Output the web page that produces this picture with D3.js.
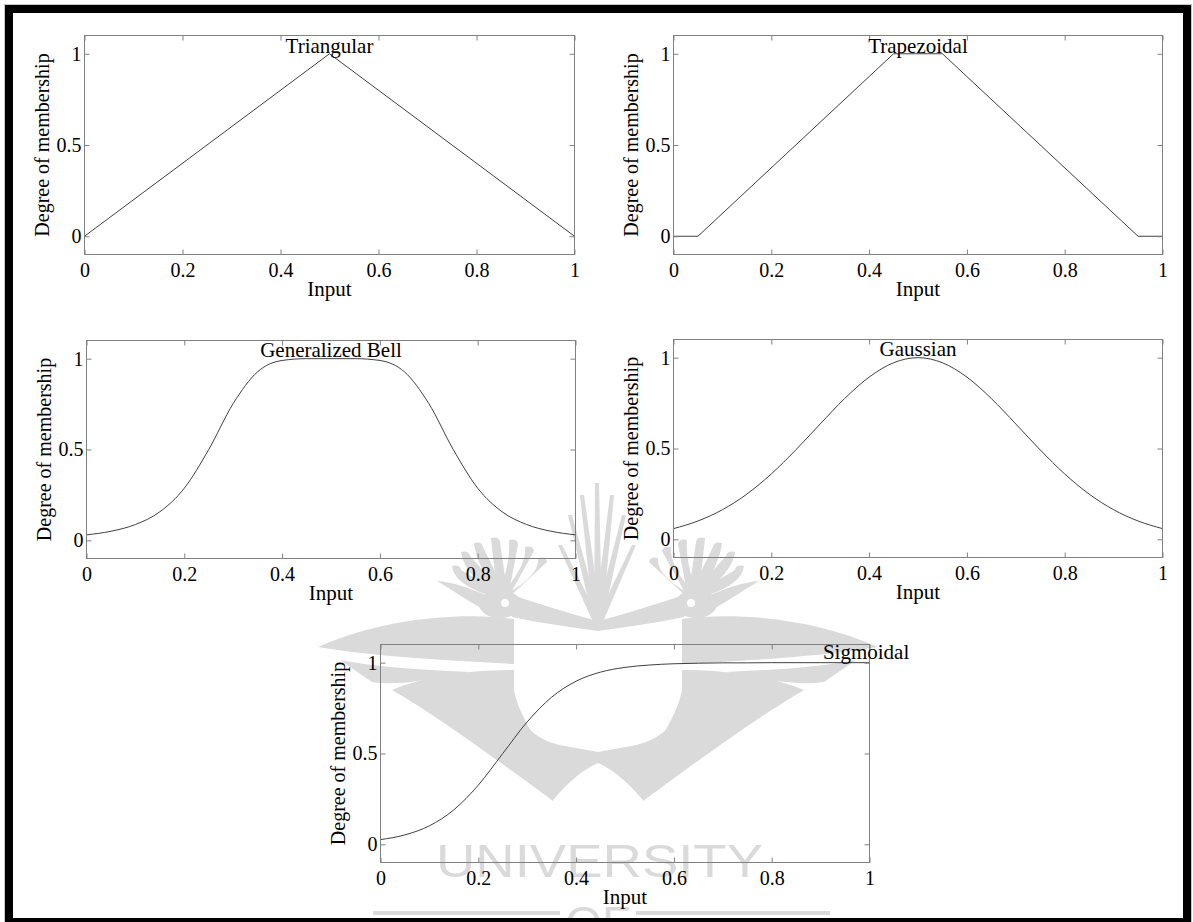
<!DOCTYPE html>
<html>
<head>
<meta charset="utf-8">
<script src="https://cdn.jsdelivr.net/npm/d3@7"></script>
<style>
  body { margin: 0; background: #fff; }
  svg { display: block; font-family: "Liberation Serif", "Times New Roman", serif; }
</style>
</head>
<body>
<svg width="1193" height="922"></svg>
<script>
// tick values shared by all five plots
var xTicks = [0, 0.2, 0.4, 0.6, 0.8, 1];
var yTicks = [0, 0.5, 1];

// membership curves
var triX = [0, 0.5, 1];
var triY = [0, 1, 0];
var trapX = [0, 0.05, 0.45, 0.55, 0.95, 1];
var trapY = [0, 0, 1, 1, 0, 0];
var smoothX = [0, 0.05, 0.1, 0.15, 0.2, 0.25, 0.3, 0.35, 0.4, 0.45, 0.5,
               0.55, 0.6, 0.65, 0.7, 0.75, 0.8, 0.85, 0.9, 0.95, 1];
var bellY = [0.030, 0.050, 0.087, 0.157, 0.287, 0.500, 0.753, 0.928, 0.990, 1.000, 1.000,
             1.000, 0.990, 0.928, 0.753, 0.500, 0.287, 0.157, 0.087, 0.050, 0.030];
var gaussY = [0.059, 0.101, 0.163, 0.249, 0.360, 0.492, 0.635, 0.775, 0.893, 0.972, 1.000,
              0.972, 0.893, 0.775, 0.635, 0.492, 0.360, 0.249, 0.163, 0.101, 0.059];
var sigY = [0.026, 0.052, 0.102, 0.190, 0.326, 0.500, 0.674, 0.810, 0.898, 0.948, 0.974,
            0.987, 0.994, 0.997, 0.999, 0.999, 1.000, 1.000, 1.000, 1.000, 1.000];

var svg = d3.select("svg");
var wm = "#dadada";

// ---- faint logo watermark behind the plots ----
var logo = svg.append("g").attr("fill", wm);
function halfLogo(g) {
    // crest feathers
    [[456, 566], [465, 552], [478, 543], [495, 538], [513, 540], [529, 547], [542, 558]].forEach(function (t) {
        g.append("path").attr("d", "M498,598 Q" + (t[0] - 2) + "," + (t[1] + 20) + " " + (t[0] - 4) + "," + t[1] +
            " Q" + (t[0] + 4) + "," + (t[1] - 2) + " " + (t[0] + 5) + "," + (t[1] + 4) + " L508,598 Z");
    });
    g.append("ellipse").attr("cx", 500).attr("cy", 604).attr("rx", 21).attr("ry", 14);
    g.append("path").attr("d", "M488,596 C470,588 452,582 437,581 C452,590 468,601 488,612 Z");
    g.append("path").attr("d", "M512,595 C540,604 570,614 598,621 L598,631 C570,627 540,623 512,617 Z");
    // wing: upper crescent and lower band
    g.append("path").attr("d", "M514,619 C465,612 385,617 318,647 C370,656 440,660 514,664 Z");
    g.append("path").attr("d", "M514,670 C470,670 425,676 392,690 C440,718 500,762 553,801 L561,772 C535,742 518,712 514,690 Z");
    g.append("path").attr("d", "M340,660 C380,668 430,670 470,672 C430,680 395,686 372,682 Z");
    // tail under the shield
    g.append("path").attr("d", "M514,700 C520,724 535,741 565,746 L598,752 L598,763 C580,771 566,785 553,800 C540,768 524,742 514,724 Z");
    g.append("circle").attr("cx", 505).attr("cy", 603).attr("r", 4).attr("fill", "#fff");
}
halfLogo(logo.append("g"));
halfLogo(logo.append("g").attr("transform", "translate(1196,0) scale(-1,1)"));
[[560, 545], [570, 515], [582, 495], [597, 483], [612, 495], [624, 515], [634, 545]].forEach(function (t) {
    logo.append("path").attr("d", "M594,624 L" + (t[0] - 2) + "," + t[1] + " L" + (t[0] + 2) + "," + t[1] + " L602,624 Z");
});
svg.append("text").attr("x", 436).attr("y", 877)
    .attr("textLength", 327).attr("lengthAdjust", "spacingAndGlyphs")
    .style("font-family", "'Liberation Sans', Arial, sans-serif").style("font-size", "47px")
    .attr("fill", wm).text("UNIVERSITY");
svg.append("text").attr("x", 598).attr("y", 939).attr("text-anchor", "middle")
    .style("font-family", "'Liberation Sans', Arial, sans-serif").style("font-size", "47px")
    .attr("fill", wm).text("OF");
svg.append("rect").attr("x", 373).attr("y", 911).attr("width", 187).attr("height", 4).attr("fill", wm);
svg.append("rect").attr("x", 636).attr("y", 911).attr("width", 194).attr("height", 4).attr("fill", wm);

// ---- the five plots ----
var panels = [
    {left: 84, top: 35, w: 490, h: 219, xs: triX, ys: triY, smooth: false, title: "Triangular", tx: 0.5, ty: 17},
    {left: 673, top: 35, w: 489, h: 219, xs: trapX, ys: trapY, smooth: false, title: "Trapezoidal", tx: 0.5, ty: 17},
    {left: 86, top: 340, w: 489, h: 218, xs: smoothX, ys: bellY, smooth: true, title: "Generalized Bell", tx: 0.5, ty: 16},
    {left: 673, top: 339, w: 489, h: 218, xs: smoothX, ys: gaussY, smooth: true, title: "Gaussian", tx: 0.5, ty: 16},
    {left: 380, top: 644, w: 489, h: 218, xs: smoothX, ys: sigY, smooth: true, title: "Sigmoidal", tx: 0.993, ty: 14}
];

var boxColor = "#808080";

panels.forEach(function (p) {
    var x = d3.scaleLinear().domain([0, 1]).range([0, p.w]);
    var y = d3.scaleLinear().domain([-0.1, 1.1]).range([p.h, 0]);
    var g = svg.append("g").attr("transform", "translate(" + (p.left + 0.5) + "," + (p.top + 0.5) + ")");

    var line = d3.line()
        .x(function (d) { return x(d[0]); })
        .y(function (d) { return y(d[1]); })
        .curve(p.smooth ? d3.curveMonotoneX : d3.curveLinear);
    g.append("path")
        .datum(d3.zip(p.xs, p.ys))
        .attr("d", line)
        .attr("fill", "none")
        .attr("stroke", "#404040")
        .attr("stroke-width", 1);

    var axes = [
        g.append("g").attr("transform", "translate(0," + p.h + ")")
            .call(d3.axisBottom(x).tickValues(xTicks).tickSizeInner(-5).tickSizeOuter(0).tickPadding(8)
                .tickFormat(function (d) { return String(d); })),
        g.append("g")
            .call(d3.axisTop(x).tickValues(xTicks).tickSizeInner(-5).tickSizeOuter(0).tickFormat("")),
        g.append("g")
            .call(d3.axisLeft(y).tickValues(yTicks).tickSizeInner(-5).tickSizeOuter(0).tickPadding(3)
                .tickFormat(function (d) { return String(d); })),
        g.append("g").attr("transform", "translate(" + p.w + ",0)")
            .call(d3.axisRight(y).tickValues(yTicks).tickSizeInner(-5).tickSizeOuter(0).tickFormat(""))
    ];
    axes.forEach(function (a) {
        a.attr("font-family", null).attr("font-size", null);
        a.select(".domain").remove();
        a.selectAll(".tick line").attr("stroke", boxColor);
        a.selectAll(".tick text").attr("fill", "#000").style("font-size", "20px");
    });

    g.append("rect")
        .attr("width", p.w).attr("height", p.h)
        .attr("fill", "none").attr("stroke", boxColor).attr("stroke-width", 1);

    g.append("text")
        .attr("x", x(p.tx)).attr("y", p.ty)
        .attr("text-anchor", "middle")
        .style("font-size", "21px")
        .text(p.title);

    g.append("text")
        .attr("x", p.w / 2).attr("y", p.h + 41)
        .attr("text-anchor", "middle")
        .style("font-size", "21px")
        .text("Input");

    g.append("text")
        .attr("transform", "translate(-36," + (p.h / 2) + ") rotate(-90)")
        .attr("text-anchor", "middle")
        .style("font-size", "20px")
        .text("Degree of membership");
});

// ---- black frame round the picture ----
svg.append("rect").attr("x", 4.5).attr("y", 4.5).attr("width", 1187).attr("height", 930)
    .attr("fill", "none").attr("stroke", "#c8c8c8").attr("stroke-width", 1);
svg.append("rect").attr("x", 9).attr("y", 9).attr("width", 1178).attr("height", 913)
    .attr("fill", "none").attr("stroke", "#000").attr("stroke-width", 8);
</script>
</body>
</html>
